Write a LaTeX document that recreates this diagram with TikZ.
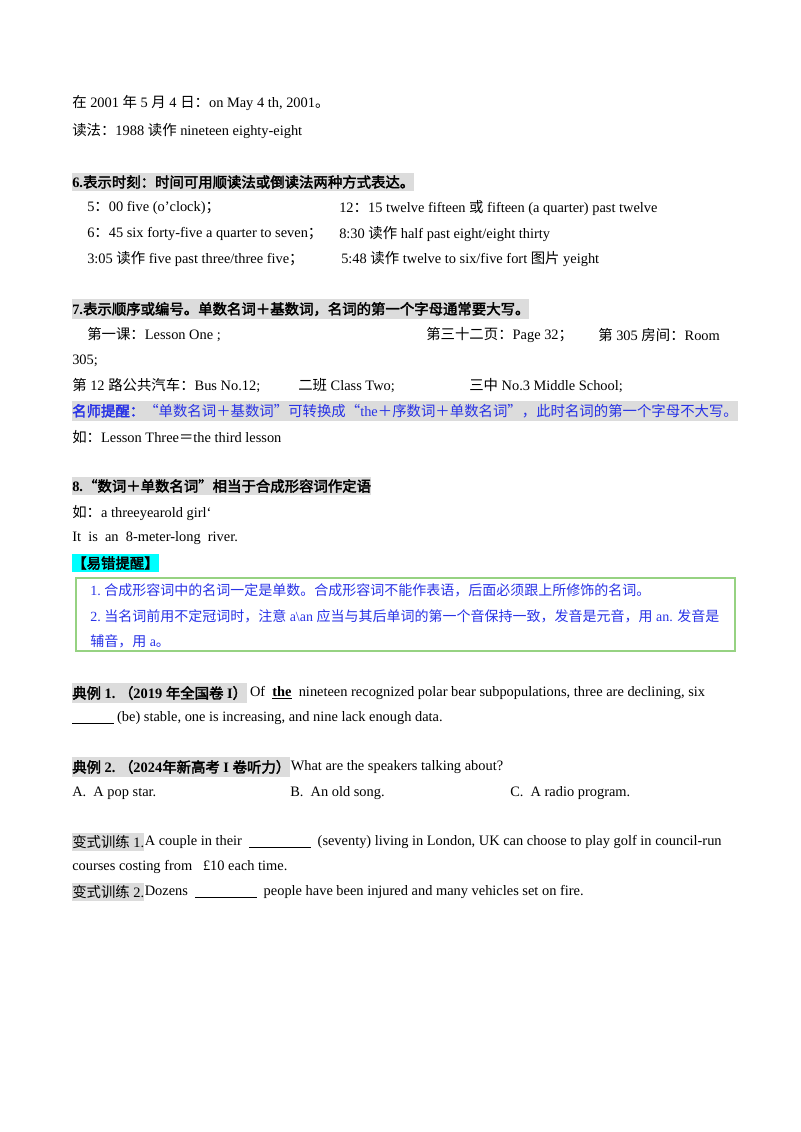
\documentclass[tikz,border=0pt]{standalone}
\usepackage{fontspec}
\setmainfont{Liberation Serif}
\newfontfamily\cjk{Noto Sans CJK SC}[AutoFakeBold=2.5]
\XeTeXinterchartokenstate=1
\newXeTeXintercharclass\CJKcls
\count255="3000
\loop \XeTeXcharclass\count255=\CJKcls \ifnum\count255<"9FFF \advance\count255 1 \repeat
\count255="FF00
\loop \XeTeXcharclass\count255=\CJKcls \ifnum\count255<"FFEF \advance\count255 1 \repeat
\XeTeXcharclass"201C=\CJKcls
\XeTeXcharclass"201D=\CJKcls
\XeTeXinterchartoks 0 \CJKcls={\begingroup\cjk}
\XeTeXinterchartoks 4095 \CJKcls={\begingroup\cjk}
\XeTeXinterchartoks \CJKcls 0={\endgroup}
\XeTeXinterchartoks \CJKcls 4095={\endgroup}
\definecolor{hlgray}{RGB}{220,220,220}
\definecolor{tblue}{RGB}{40,50,230}
\definecolor{boxgreen}{RGB}{150,210,130}
\definecolor{hlcyan}{RGB}{0,255,255}
\tikzset{
  t/.style={anchor=west,inner sep=0pt,font=\fontsize{10.8}{13}\selectfont},
  hd/.style={t,fill=hlgray,inner ysep=2pt,font=\fontsize{10.8}{13}\selectfont\bfseries},
  bl/.style={t,text=tblue,font=\fontsize{10.5}{13}\selectfont},
}
\newcommand{\blank}[1]{\rule[-2pt]{#1}{0.8pt}}
\begin{document}
\begin{tikzpicture}[x=0.75pt,y=-0.75pt]
\useasboundingbox (0,0) rectangle (800,1132);
\node[t] (l1) at (72,103) {在 2001 年 5 月 4 日：on May 4 th, 2001。};
\node[t] (l2) at (72,131) {读法：1988 读作 nineteen eighty-eight};
\node[hd] (h6) at (72,182) {6.表示时刻：时间可用顺读法或倒读法两种方式表达。};
\node[t] (a1) at (87,208) {5：00 five (o’clock)；};
\node[t] (b1) at (339,208) {12：15 twelve fifteen 或 fifteen (a quarter) past twelve};
\node[t] (a2) at (87,234) {6：45 six forty-five a quarter to seven；};
\node[t] (b2) at (339,234) {8:30 读作 half past eight/eight thirty};
\node[t] (a3) at (87,259) {3:05 读作 five past three/three five；};
\node[t] (b3) at (341,259) {5:48 读作 twelve to six/five fort 图片 yeight};
\node[hd] (h7) at (72,309) {7.表示顺序或编号。单数名词＋基数词，名词的第一个字母通常要大写。};
\node[t] (c1) at (87,335) {第一课：Lesson One ;};
\node[t] (c2) at (426,335) {第三十二页：Page 32；};
\node[t] (c3) at (598,335) {第 305 房间：Room};
\node[t] (c4) at (72,361) {305;};
\node[t] (d1) at (72,386) {第 12 路公共汽车：Bus No.12;};
\node[t] (d2) at (298,386) {二班 Class Two;};
\node[t] (d3) at (469,386) {三中 No.3 Middle School;};
\node[t,fill=hlgray,inner ysep=2pt,text=tblue] (tip) at (72,411) {\textbf{名师提醒：}“单数名词＋基数词”可转换成“the＋序数词＋单数名词”，此时名词的第一个字母不大写。};
\node[t] (e1) at (72,437) {如：Lesson Three＝the third lesson};
\node[hd] (h8) at (72,486) {8.“数词＋单数名词”相当于合成形容词作定语};
\node[t] (f1) at (72,513) {如：a threeyearold girl`};
\node[t] (f2) at (72,538) {It\ \ is\ \ an\ \ 8-meter-long\ \ river.};
\node[hd,fill=hlcyan] (yc) at (72,563) {【易错提醒】};
\draw[boxgreen,line width=0.8pt] (76,578) rectangle (735,651);
\node[bl] (g1) at (90,590) {1.\ 合成形容词中的名词一定是单数。合成形容词不能作表语，后面必须跟上所修饰的名词。};
\node[bl] (g2) at (90,616) {2.\ 当名词前用不定冠词时，注意 a\textbackslash an 应当与其后单词的第一个音保持一致，发音是元音，用 an. 发音是};
\node[bl] (g3) at (90,641) {辅音，用 a。};
\node[hd] (ex1) at (72,693) {典例 1.\ （2019 年全国卷 I）};
\node[t] (ex1b) at (ex1.east) {\,Of\ \ \underline{\textbf{the}}\ \ nineteen\ recognized\ polar\ bear\ subpopulations,\ three\ are\ declining,\ six};
\node[t] (ex1c) at (72,718) {\blank{31pt} (be) stable, one is increasing, and nine lack enough data.};
\node[hd] (ex2) at (72,767) {典例 2.\ （2024年新高考 I 卷听力）};
\node[t] (ex2b) at (ex2.east) {What are the speakers talking about?};
\node[t] (oa) at (72,793) {A.\ \ A pop star.};
\node[t] (ob) at (290,793) {B.\ \ An old song.};
\node[t] (oc) at (510,793) {C.\ \ A radio program.};
\node[t,fill=hlgray,inner ysep=2pt] (v1) at (72,842) {变式训练 1.};
\node[t] (v1b) at (v1.east) {A couple in their \ \blank{46pt}\ \ (seventy) living in London, UK can choose to play golf in council-run};
\node[t] (v1c) at (72,867) {courses costing from\ \ \ £10 each time.};
\node[t,fill=hlgray,inner ysep=2pt] (v2) at (72,892) {变式训练 2.};
\node[t] (v2b) at (v2.east) {Dozens\ \ \blank{46pt}\ \ people have been injured and many vehicles set on fire.};
\end{tikzpicture}
\end{document}
